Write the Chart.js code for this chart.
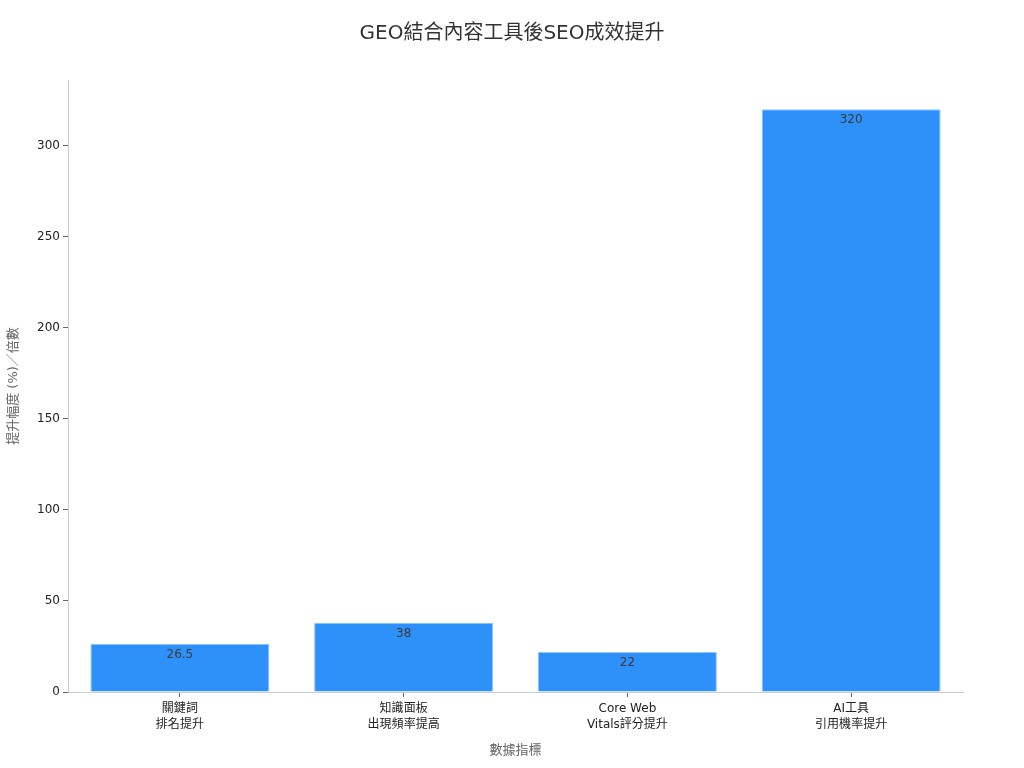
<!DOCTYPE html>
<html>
<head>
<meta charset="utf-8">
<script src="https://cdn.jsdelivr.net/npm/chart.js@4"></script>
<style>
  html, body { margin: 0; padding: 0; background: #fff; }
  #wrap { width: 1024px; height: 768px; }
</style>
</head>
<body>
<div id="wrap"><canvas id="chart" width="1024" height="768"></canvas></div>
<script>
const TITLE = 'GEO結合內容工具後SEO成效提升';
const CATEGORIES = [
  ['關鍵詞', '排名提升'],
  ['知識面板', '出現頻率提高'],
  ['Core Web', 'Vitals評分提升'],
  ['AI工具', '引用機率提升'],
];
const VALUES = [26.5, 38, 22, 320];
const VALUE_LABELS = ['26.5', '38', '22', '320'];
const Y_TICKS = [0, 50, 100, 150, 200, 250, 300];
const Y_TITLE = '提升幅度 (%)／倍數';
const X_TITLE = '數據指標';

const FONT = '"DejaVu Sans", "Noto Sans CJK TC", sans-serif';

// value labels just inside the top of each bar
const barLabels = {
  id: 'barLabels',
  afterDatasetsDraw(chart) {
    const ctx = chart.ctx;
    const meta = chart.getDatasetMeta(0);
    ctx.save();
    ctx.font = '12px ' + FONT;
    ctx.fillStyle = '#3a3a3a';
    ctx.textAlign = 'center';
    ctx.textBaseline = 'middle';
    meta.data.forEach((bar, i) => {
      ctx.fillText(VALUE_LABELS[i], bar.x, bar.y + 11);
    });
    ctx.restore();
  }
};

// title centred on the whole canvas
const pageTitle = {
  id: 'pageTitle',
  afterDraw(chart) {
    const ctx = chart.ctx;
    ctx.save();
    ctx.font = '20px ' + FONT;
    ctx.fillStyle = '#333';
    ctx.textAlign = 'center';
    ctx.textBaseline = 'middle';
    ctx.fillText(TITLE, chart.width / 2, 34);
    ctx.restore();
  }
};

new Chart(document.getElementById('chart'), {
  type: 'bar',
  data: {
    labels: CATEGORIES,
    datasets: [{
      data: VALUES,
      backgroundColor: '#2e91f9',
      borderColor: '#8fc6fb',
      borderWidth: 1,
      barPercentage: 0.8,
      categoryPercentage: 1.0,
    }],
  },
  options: {
    responsive: false,
    animation: false,
    layout: { padding: { left: 0, right: 61, top: 80, bottom: 0 } },
    plugins: {
      legend: { display: false },
      tooltip: { enabled: false },
      title: { display: false },
    },
    scales: {
      x: {
        offset: true,
        grid: { display: true, offset: false, drawOnChartArea: false, tickLength: 5, color: '#666' },
        border: { display: true, color: '#ccc' },
        ticks: { color: '#222', font: { family: FONT, size: 12, lineHeight: 1.35 }, padding: 4, maxRotation: 0 },
        title: { display: true, text: X_TITLE, color: '#666', font: { family: FONT, size: 13 }, padding: { top: 10, bottom: 10 } },
        afterFit(scale) { scale.height = 76; },
      },
      y: {
        min: 0,
        max: 336,
        afterBuildTicks(scale) {
          scale.ticks = Y_TICKS.map(v => ({ value: v }));
        },
        grid: { display: true, drawOnChartArea: false, tickLength: 5, color: '#666' },
        border: { display: true, color: '#ccc' },
        ticks: { color: '#222', font: { family: FONT, size: 12 }, padding: 3 },
        title: { display: true, text: Y_TITLE, color: '#666', font: { family: FONT, size: 13 }, padding: { top: 6, bottom: 0 } },
        afterFit(scale) { scale.width = 68; },
      },
    },
  },
  plugins: [barLabels, pageTitle],
});
</script>
</body>
</html>
